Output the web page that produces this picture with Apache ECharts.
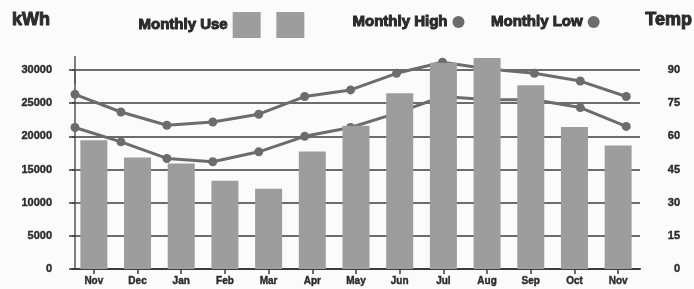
<!DOCTYPE html>
<html>
<head>
<meta charset="utf-8">
<script src="https://cdn.jsdelivr.net/npm/echarts@6/dist/echarts.min.js"></script>
<style>
html,body{margin:0;padding:0;background:#fbfbfb;}
#chart{width:694px;height:289px;}
</style>
</head>
<body>
<div id="chart"></div>
<script>
var months = ['Nov','Dec','Jan','Feb','Mar','Apr','May','Jun','Jul','Aug','Sep','Oct','Nov'];
var monthlyUse = [19400,16800,15900,13300,12100,17700,21600,26500,31100,31800,27700,21400,18600];
var monthlyHigh = [79,71,65,66.5,70,78,81,88.5,93.5,90.5,88.5,85,78];
var monthlyLow = [64,57.5,50,48.5,53,60,64,70.5,78,76.5,76.5,73,64.5];
var kwhTicks = {min:0, max:30000, interval:5000};
var tempTicks = {min:0, max:90, interval:15};

function points(arr){
	var out=[];
	for(var i=0;i<arr.length;i++){
		out.push([i,arr[i]]);
	}
	return out;
}

var txt = '#2b2b2b';
var barColor = '#9d9d9d';
var lineColor = '#6c6c6c';
var gridColor = '#3c3c3c';
var heavy = {fontFamily:'Liberation Sans', fontWeight:'bold', color:txt, textBorderColor:txt, textBorderWidth:1};

option = {
	backgroundColor:'#fbfbfb',
	animation:false,
	title:[{
		text:'kWh', left:7, top:6,
		textStyle:Object.assign({fontSize:18}, heavy)
	},{
		text:'Temp', right:-4, top:6,
		textStyle:Object.assign({fontSize:18}, heavy)
	}],
	legend:[{
		left:133, top:7,
		align:'right',
		itemWidth:28, itemHeight:26, itemGap:6,
		icon:'rect',
		data:['Monthly Use',' '],
		textStyle:Object.assign({fontSize:15}, heavy)
	},{
		left:347, top:9,
		align:'right',
		itemWidth:12, itemHeight:12, itemGap:26,
		icon:'circle',
		data:['Monthly High','Monthly Low'],
		textStyle:Object.assign({fontSize:15}, heavy)
	}],
	grid:{left:72, right:54, top:70, bottom:20},
	xAxis:[{
		type:'category',
		data:months,
		boundaryGap:true,
		axisLine:{show:true, lineStyle:{color:gridColor, width:2}},
		axisTick:{show:true, alignWithLabel:true, length:5, lineStyle:{color:gridColor, width:1.5}},
		axisLabel:{margin:7, fontFamily:'Liberation Sans', fontWeight:'bold', fontSize:10, color:txt, textBorderColor:txt, textBorderWidth:0.4}
	},{
		type:'value',
		show:false,
		min:-0.065, max:12.3,
		splitLine:{show:false}
	}],
	yAxis:[{
		type:'value',
		min:kwhTicks.min, max:kwhTicks.max, interval:kwhTicks.interval,
		axisLine:{show:true, symbol:['none','rect'], symbolSize:[1.5,28], lineStyle:{color:'#555', width:1.5}},
		axisTick:{show:true, length:6, lineStyle:{color:gridColor, width:1.5}},
		axisLabel:{margin:20, fontFamily:'Liberation Sans', fontWeight:'bold', fontSize:11, color:txt, textBorderColor:txt, textBorderWidth:0.4,
			formatter:function(v){return String(v);}},
		splitLine:{show:true, lineStyle:{color:gridColor, width:1.5}}
	},{
		type:'value',
		position:'right',
		min:tempTicks.min, max:tempTicks.max, interval:tempTicks.interval,
		axisLine:{show:false},
		axisTick:{show:false},
		axisLabel:{margin:40, align:'right', fontFamily:'Liberation Sans', fontWeight:'bold', fontSize:11, color:txt, textBorderColor:txt, textBorderWidth:0.4},
		splitLine:{show:false}
	}],
	series:[{
		name:'Monthly Use',
		type:'bar',
		data:monthlyUse,
		barWidth:27,
		clip:false,
		z:3,
		itemStyle:{color:barColor}
	},{
		name:' ',
		type:'line',
		data:[],
		itemStyle:{color:barColor}
	},{
		name:'Monthly High',
		type:'line',
		xAxisIndex:1, yAxisIndex:1,
		data:points(monthlyHigh),
		symbol:'circle', symbolSize:9,
		clip:false,
		z:1,
		lineStyle:{color:lineColor, width:3},
		itemStyle:{color:lineColor}
	},{
		name:'Monthly Low',
		type:'line',
		xAxisIndex:1, yAxisIndex:1,
		data:points(monthlyLow),
		symbol:'circle', symbolSize:9,
		clip:false,
		z:1,
		lineStyle:{color:lineColor, width:3},
		itemStyle:{color:lineColor}
	}]
};

var myChart = echarts.init(document.getElementById('chart'));
myChart.setOption(option);
</script>
</body>
</html>
